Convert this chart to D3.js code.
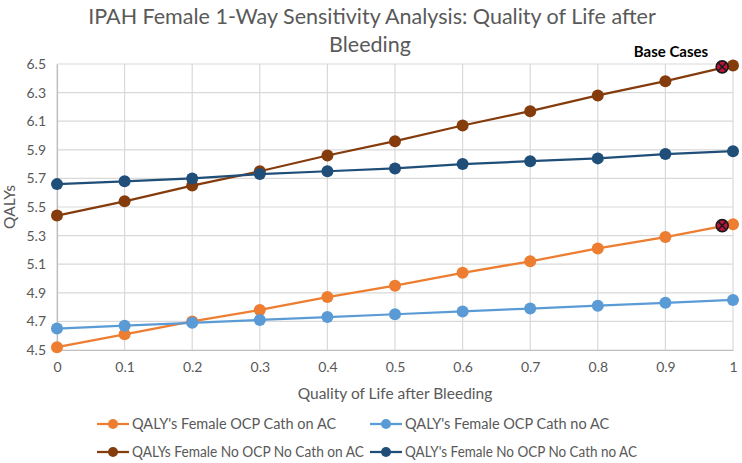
<!DOCTYPE html>
<html><head><meta charset="utf-8">
<script src="https://cdn.jsdelivr.net/npm/d3@7"></script>
<style>body{margin:0;background:#fff}svg{display:block}text{font-family:Lato,"Open Sans",sans-serif}</style>
</head><body>
<svg id="c" width="742" height="463"></svg>
<script>
const xValues = [0,0.1,0.2,0.3,0.4,0.5,0.6,0.7,0.8,0.9,1];
const ocpCathOnAC = [4.52,4.61,4.70,4.78,4.87,4.95,5.04,5.12,5.21,5.29,5.38];
const ocpCathNoAC = [4.65,4.67,4.69,4.71,4.73,4.75,4.77,4.79,4.81,4.83,4.85];
const noOcpNoCathOnAC = [5.44,5.54,5.65,5.75,5.86,5.96,6.07,6.17,6.28,6.38,6.49];
const noOcpNoCathNoAC = [5.66,5.68,5.70,5.73,5.75,5.77,5.80,5.82,5.84,5.87,5.89];
const seriesNames = ["QALY's Female OCP Cath on AC","QALY's Female OCP Cath no AC","QALYs Female No OCP No Cath on AC","QALY's Female No OCP No Cath no AC"];
const seriesColors = ["#ED7D31","#5B9BD5","#843C0C","#1F4E79"];
const yTicks = [4.5,4.7,4.9,5.1,5.3,5.5,5.7,5.9,6.1,6.3,6.5];
const baseCaseX = [0.984,0.984];
const baseCaseY = [6.48,5.37];
const baseCaseLabel = "Base Cases";

const series = [ocpCathOnAC, ocpCathNoAC, noOcpNoCathOnAC, noOcpNoCathNoAC];
const svg = d3.select("#c");
const m = {l:57, r:9, t:64, b:113};
const W = 742, H = 463;
const x = d3.scaleLinear().domain([0,1]).range([m.l, W-m.r]);
const y = d3.scaleLinear().domain([4.5,6.5]).range([H-m.b, m.t]);
const grey = "#595959";

// gridlines
svg.append("g").selectAll("line").data(yTicks).join("line")
  .attr("x1", x(0)).attr("x2", x(1)).attr("y1", d=>y(d)).attr("y2", d=>y(d))
  .attr("stroke", "#d9d9d9").attr("stroke-width", 1.2);
svg.append("g").selectAll("line").data(xValues).join("line")
  .attr("x1", d=>x(d)).attr("x2", d=>x(d)).attr("y1", y(4.5)).attr("y2", y(6.5))
  .attr("stroke", "#d9d9d9").attr("stroke-width", 1.2);

// axes
const xa = svg.append("g").attr("transform", `translate(0,${y(4.5)})`)
  .call(d3.axisBottom(x).tickValues(xValues).tickFormat(d3.format("~g")).tickSize(0).tickPadding(12));
xa.select(".domain").attr("stroke", "#bfbfbf").attr("stroke-width", 1.2);
xa.selectAll("text").attr("fill", grey).attr("font-size", 14);
const ya = svg.append("g").attr("transform", `translate(${x(0)},0)`)
  .call(d3.axisLeft(y).tickValues(yTicks).tickFormat(d3.format(".1f")).tickSize(0).tickPadding(11));
ya.select(".domain").attr("stroke", "#bfbfbf").attr("stroke-width", 1.2);
ya.selectAll("text").attr("fill", grey).attr("font-size", 14);

// lines
const line = d3.line().x((d,i)=>x(xValues[i])).y(d=>y(d));
series.forEach((s,k)=>{
  svg.append("path").datum(s).attr("d", line).attr("fill","none")
    .attr("stroke", seriesColors[k]).attr("stroke-width", 2.25);
  svg.append("g").selectAll("circle").data(s).join("circle")
    .attr("cx", (d,i)=>x(xValues[i])).attr("cy", d=>y(d)).attr("r", 6)
    .attr("fill", seriesColors[k]);
});

// base case markers
baseCaseX.forEach((bx,i)=>{
  const cx = x(bx), cy = y(baseCaseY[i]), r = 6;
  const g = svg.append("g");
  g.append("circle").attr("cx",cx).attr("cy",cy).attr("r",r).attr("fill","#C0143C").attr("stroke","#1a1a1a").attr("stroke-width",1.6);
  const o = r*0.62;
  g.append("line").attr("x1",cx-o).attr("y1",cy-o).attr("x2",cx+o).attr("y2",cy+o).attr("stroke","#1a1a1a").attr("stroke-width",1.5);
  g.append("line").attr("x1",cx-o).attr("y1",cy+o).attr("x2",cx+o).attr("y2",cy-o).attr("stroke","#1a1a1a").attr("stroke-width",1.5);
});
svg.append("text").attr("x", 671).attr("y", 57).attr("text-anchor","middle")
  .attr("font-size", 15).attr("font-weight","bold").attr("fill","#000").text(baseCaseLabel);

// title
svg.append("text").attr("x", 372).attr("y", 24).attr("text-anchor","middle")
  .attr("font-size", 21.5).attr("fill", grey).text("IPAH Female 1-Way Sensitivity Analysis: Quality of Life after");
svg.append("text").attr("x", 370).attr("y", 52).attr("text-anchor","middle")
  .attr("font-size", 21.5).attr("fill", grey).text("Bleeding");

// axis titles
svg.append("text").attr("x", (x(0)+x(1))/2).attr("y", 399).attr("text-anchor","middle")
  .attr("font-size", 15.5).attr("fill", grey).text("Quality of Life after Bleeding");
svg.append("text").attr("transform", `translate(15,${(y(4.5)+y(6.5))/2}) rotate(-90)`).attr("text-anchor","middle")
  .attr("font-size", 15.5).attr("fill", grey).text("QALYs");

// legend
const legPos = [[97,424],[370,424],[97,452],[370,452]];
seriesNames.forEach((n,k)=>{
  const [lx,ly] = legPos[k];
  const g = svg.append("g");
  g.append("line").attr("x1",lx).attr("x2",lx+32).attr("y1",ly).attr("y2",ly).attr("stroke",seriesColors[k]).attr("stroke-width",2.25);
  g.append("circle").attr("cx",lx+16).attr("cy",ly).attr("r",5).attr("fill",seriesColors[k]);
  const t = g.append("text").attr("x",lx+35).attr("y",ly+5).attr("font-size",14.5).attr("fill",grey).text(n);
  const maxW = 232;
  if (t.node().getComputedTextLength() > maxW) t.attr("textLength", maxW).attr("lengthAdjust","spacingAndGlyphs");
});
</script>
</body></html>
